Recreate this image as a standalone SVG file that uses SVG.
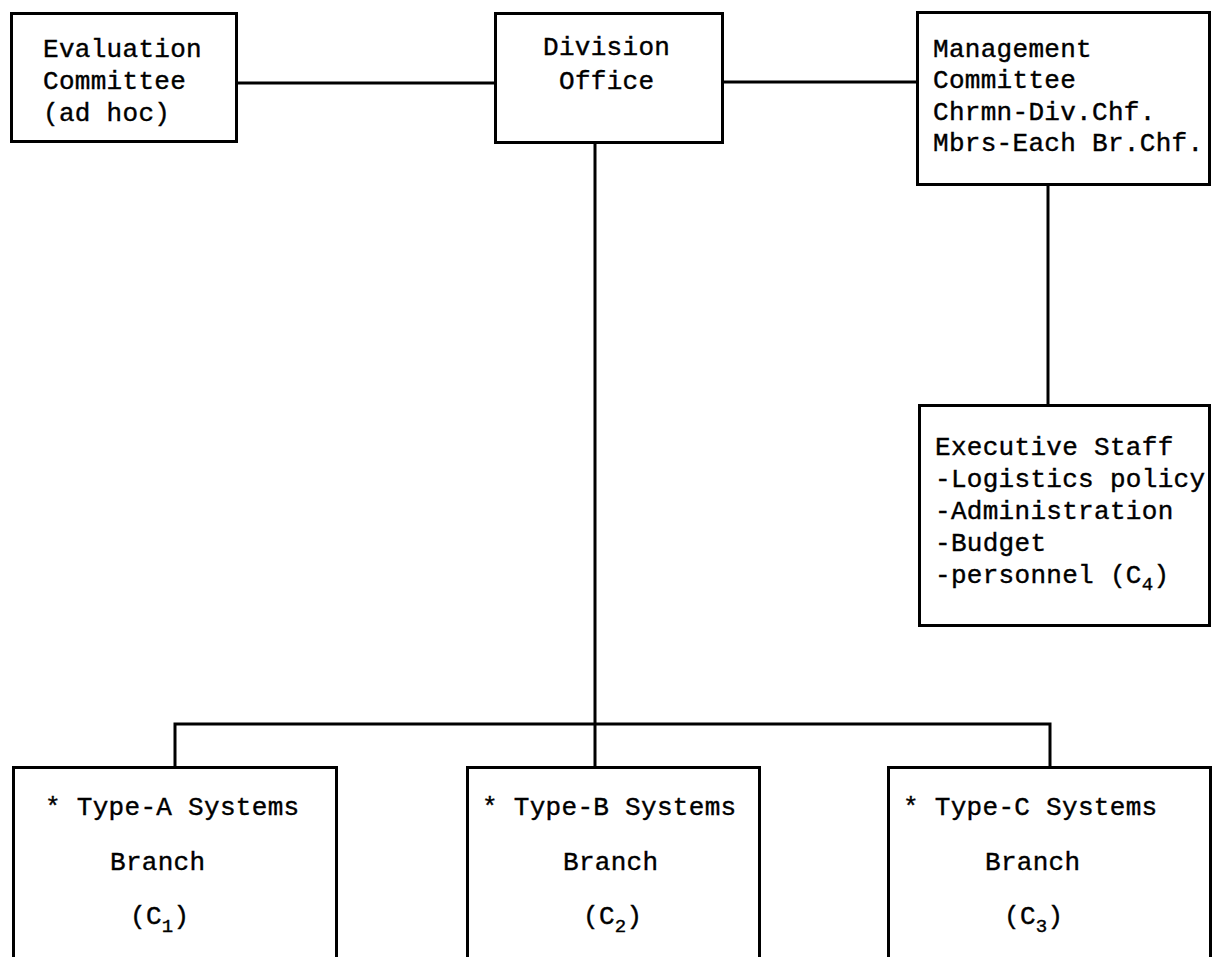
<svg xmlns="http://www.w3.org/2000/svg" width="1213" height="957" viewBox="0 0 1213 957">
  <style>
    .box { fill: #ffffff; stroke: #000000; stroke-width: 3; }
    .wire { fill: none; stroke: #000000; stroke-width: 3; }
    .t { font-family: "Liberation Mono", "DejaVu Sans Mono", monospace; font-size: 26px; letter-spacing: 0.3px; fill: #000000; stroke: #000000; stroke-width: 0.4; }
    .sub { font-size: 19px; }
  </style>
  <rect width="1213" height="957" fill="#ffffff"/>

  <!-- connectors -->
  <g id="connectors">
    <line class="wire" x1="237" y1="83" x2="495" y2="83"/>
    <line class="wire" x1="723" y1="82" x2="917" y2="82"/>
    <line class="wire" x1="1048" y1="185" x2="1048" y2="405"/>
    <line class="wire" x1="595" y1="143" x2="595" y2="767"/>
    <polyline class="wire" points="175,767 175,724 1050,724 1050,767"/>
  </g>

  <g id="evaluation-committee">
    <rect class="box" x="11.5" y="13.5" width="225" height="128"/>
    <text class="t" x="43" y="57">Evaluation</text>
    <text class="t" x="43" y="89">Committee</text>
    <text class="t" x="43" y="121">(ad hoc)</text>
  </g>

  <g id="division-office">
    <rect class="box" x="495.5" y="13.5" width="227" height="129"/>
    <text class="t" x="543" y="55">Division</text>
    <text class="t" x="559" y="89">Office</text>
  </g>

  <g id="management-committee">
    <rect class="box" x="917.5" y="12.5" width="292" height="172"/>
    <text class="t" x="933" y="57">Management</text>
    <text class="t" x="933" y="88">Committee</text>
    <text class="t" x="933" y="120">Chrmn-Div.Chf.</text>
    <text class="t" x="933" y="151">Mbrs-Each Br.Chf.</text>
  </g>

  <g id="executive-staff">
    <rect class="box" x="919.5" y="405.5" width="290" height="220"/>
    <text class="t" x="935" y="455">Executive Staff</text>
    <text class="t" x="935" y="487">-Logistics policy</text>
    <text class="t" x="935" y="519">-Administration</text>
    <text class="t" x="935" y="551">-Budget</text>
    <text class="t" x="935" y="583">-personnel (C<tspan class="sub" dy="7">4</tspan><tspan dy="-7">)</tspan></text>
  </g>

  <g id="type-a-branch">
    <rect class="box" x="13.5" y="767.5" width="323" height="260"/>
    <text class="t" x="45" y="815">* Type-A Systems</text>
    <text class="t" x="110" y="870">Branch</text>
    <text class="t" x="130" y="924">(C<tspan class="sub" dy="8">1</tspan><tspan dy="-8">)</tspan></text>
  </g>

  <g id="type-b-branch">
    <rect class="box" x="467.5" y="767.5" width="292" height="260"/>
    <text class="t" x="482" y="815">* Type-B Systems</text>
    <text class="t" x="563" y="870">Branch</text>
    <text class="t" x="583" y="924">(C<tspan class="sub" dy="8">2</tspan><tspan dy="-8">)</tspan></text>
  </g>

  <g id="type-c-branch">
    <rect class="box" x="888.5" y="767.5" width="322" height="260"/>
    <text class="t" x="903" y="815">* Type-C Systems</text>
    <text class="t" x="985" y="870">Branch</text>
    <text class="t" x="1004" y="924">(C<tspan class="sub" dy="8">3</tspan><tspan dy="-8">)</tspan></text>
  </g>
</svg>
